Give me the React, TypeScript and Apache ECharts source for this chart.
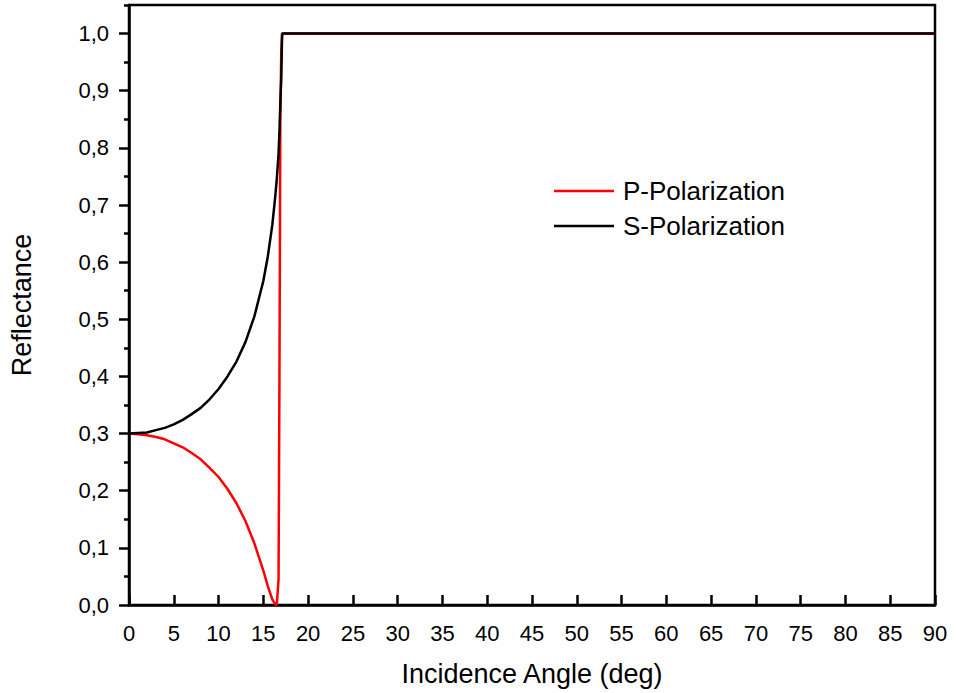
import React, { useEffect, useRef } from "react";
import * as echarts from "echarts";

const xTicks = [0, 5, 10, 15, 20, 25, 30, 35, 40, 45, 50, 55, 60, 65, 70, 75, 80, 85, 90];
const yMajorTicks = [0, 0.1, 0.2, 0.3, 0.4, 0.5, 0.6, 0.7, 0.8, 0.9, 1.0];
const yMinorTicks = [0.05, 0.15, 0.25, 0.35, 0.45, 0.55, 0.65, 0.75, 0.85, 0.95, 1.05];

const angles = [0, 1, 2, 3, 4, 5, 6, 7, 8, 9, 10, 11, 12, 13, 14, 15, 15.5, 16, 16.3, 16.5, 16.7, 16.8, 16.9, 17.0, 17.1, 90];
const pValues = [0.300, 0.299, 0.297, 0.294, 0.290, 0.283, 0.276, 0.266, 0.255, 0.240, 0.224, 0.203, 0.178, 0.147, 0.108, 0.060, 0.033, 0.010, 0.002, 0.0, 0.045, 0.40, 0.85, 0.97, 1.0, 1.0];
const sValues = [0.300, 0.301, 0.302, 0.306, 0.310, 0.316, 0.324, 0.334, 0.345, 0.360, 0.378, 0.400, 0.426, 0.460, 0.505, 0.567, 0.610, 0.665, 0.710, 0.745, 0.790, 0.830, 0.880, 0.920, 1.0, 1.0];

const FONT = "'Liberation Sans', Arial, sans-serif";

export default function App() {
  const ref = useRef<HTMLDivElement>(null);
  useEffect(() => {
    if (!ref.current) return;
    const chart = echarts.init(ref.current, null, { renderer: "svg" });
    const fmt = (v: number) => v.toFixed(1).replace(".", ",");
    chart.setOption({
      animation: false,
      backgroundColor: "#fff",
      textStyle: { fontFamily: FONT },
      grid: {
        left: 127,
        right: 21,
        top: 5,
        bottom: 88,
        show: true,
        borderColor: "#000",
        borderWidth: 2.5,
      },
      legend: {
        orient: "vertical",
        left: 549,
        top: 172,
        icon: "rect",
        itemWidth: 60,
        itemHeight: 2.5,
        itemGap: 7,
        data: ["P-Polarization", "S-Polarization"],
        textStyle: { fontSize: 26, color: "#000", fontFamily: FONT, padding: [0, 0, 0, 4], lineHeight: 28 },
      },
      xAxis: {
        type: "value",
        min: 0,
        max: 90,
        interval: 5,
        name: "Incidence Angle (deg)",
        nameLocation: "middle",
        nameGap: 55,
        nameTextStyle: { fontSize: 27, color: "#000", fontFamily: FONT },
        axisLine: { show: true, lineStyle: { color: "#000", width: 2.5 } },
        axisTick: { show: true, inside: true, length: 10, lineStyle: { color: "#000", width: 2.5 } },
        axisLabel: { fontSize: 22, color: "#000", margin: 17, fontFamily: FONT, customValues: xTicks },
        splitLine: { show: false },
      },
      yAxis: [
        {
          type: "value",
          min: 0,
          max: 1.05,
          name: "Reflectance",
          nameLocation: "middle",
          nameGap: 94,
          nameTextStyle: { fontSize: 27, color: "#000", fontFamily: FONT },
          axisLine: { show: true, lineStyle: { color: "#000", width: 2.5 } },
          axisTick: { show: true, inside: false, length: 10, lineStyle: { color: "#000", width: 2.5 }, customValues: yMajorTicks },
          axisLabel: { fontSize: 22, color: "#000", margin: 20, fontFamily: FONT, customValues: yMajorTicks, formatter: fmt },
          splitLine: { show: false },
        },
        {
          type: "value",
          min: 0,
          max: 1.05,
          position: "left",
          axisLine: { show: false },
          axisTick: { show: true, inside: false, length: 5, lineStyle: { color: "#000", width: 2.5 }, customValues: yMinorTicks },
          axisLabel: { show: false },
          splitLine: { show: false },
        },
      ],
      series: [
        {
          name: "P-Polarization",
          type: "line",
          symbol: "none",
          yAxisIndex: 0,
          lineStyle: { color: "#ff0000", width: 2.5 },
          itemStyle: { color: "#ff0000" },
          data: angles.map((a, i) => [a, pValues[i]]),
        },
        {
          name: "S-Polarization",
          type: "line",
          symbol: "none",
          yAxisIndex: 0,
          lineStyle: { color: "#000", width: 2.5 },
          itemStyle: { color: "#000" },
          data: angles.map((a, i) => [a, sValues[i]]),
        },
      ],
    });
    return () => chart.dispose();
  }, []);
  return (
    <div
      ref={ref}
      style={{ position: "fixed", left: 0, top: 0, width: 956, height: 693, background: "#fff" }}
    />
  );
}
